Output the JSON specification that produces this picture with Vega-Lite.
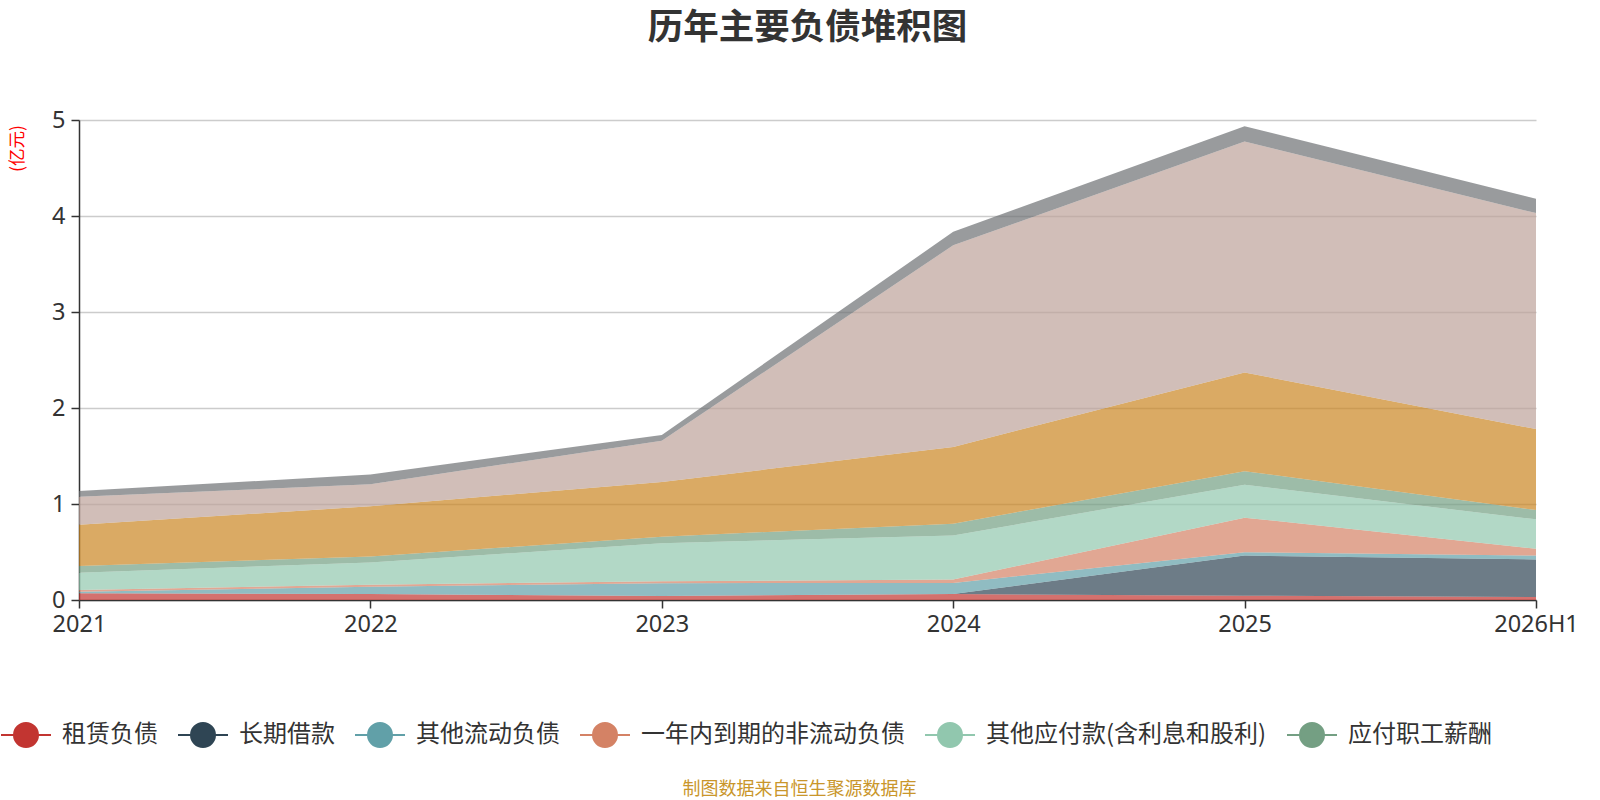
{
  "$schema": "https://vega.github.io/schema/vega-lite/v6.json",
  "autosize": "none",
  "width": 1457,
  "height": 480,
  "padding": {"left": 79, "top": 120, "right": 64, "bottom": 200},
  "background": "white",
  "config": {"view": {"stroke": null}, "font": "Noto Sans CJK SC"},
  "title": {"text": "历年主要负债堆积图", "font": "Noto Sans CJK SC", "fontSize": 35.5, "fontWeight": "bold", "color": "#333333", "anchor": "middle", "offset": 62},
  "data": {"values": [
    {"year": "2021", "s": "租赁负债", "k": 1, "v": 0.07},
    {"year": "2021", "s": "长期借款", "k": 2, "v": 0},
    {"year": "2021", "s": "其他流动负债", "k": 3, "v": 0.015},
    {"year": "2021", "s": "一年内到期的非流动负债", "k": 4, "v": 0.02},
    {"year": "2021", "s": "其他应付款(含利息和股利)", "k": 5, "v": 0.18},
    {"year": "2021", "s": "应付职工薪酬", "k": 6, "v": 0.07},
    {"year": "2021", "s": "合同负债", "k": 7, "v": 0.43},
    {"year": "2021", "s": "应付票据及应付账款", "k": 8, "v": 0.29},
    {"year": "2021", "s": "应交税费", "k": 9, "v": 0.06},
    {"year": "2022", "s": "租赁负债", "k": 1, "v": 0.063},
    {"year": "2022", "s": "长期借款", "k": 2, "v": 0},
    {"year": "2022", "s": "其他流动负债", "k": 3, "v": 0.076},
    {"year": "2022", "s": "一年内到期的非流动负债", "k": 4, "v": 0.021},
    {"year": "2022", "s": "其他应付款(含利息和股利)", "k": 5, "v": 0.23},
    {"year": "2022", "s": "应付职工薪酬", "k": 6, "v": 0.063},
    {"year": "2022", "s": "合同负债", "k": 7, "v": 0.523},
    {"year": "2022", "s": "应付票据及应付账款", "k": 8, "v": 0.23},
    {"year": "2022", "s": "应交税费", "k": 9, "v": 0.1},
    {"year": "2023", "s": "租赁负债", "k": 1, "v": 0.042},
    {"year": "2023", "s": "长期借款", "k": 2, "v": 0},
    {"year": "2023", "s": "其他流动负债", "k": 3, "v": 0.133},
    {"year": "2023", "s": "一年内到期的非流动负债", "k": 4, "v": 0.02},
    {"year": "2023", "s": "其他应付款(含利息和股利)", "k": 5, "v": 0.395},
    {"year": "2023", "s": "应付职工薪酬", "k": 6, "v": 0.07},
    {"year": "2023", "s": "合同负债", "k": 7, "v": 0.57},
    {"year": "2023", "s": "应付票据及应付账款", "k": 8, "v": 0.43},
    {"year": "2023", "s": "应交税费", "k": 9, "v": 0.06},
    {"year": "2024", "s": "租赁负债", "k": 1, "v": 0.062},
    {"year": "2024", "s": "长期借款", "k": 2, "v": 0},
    {"year": "2024", "s": "其他流动负债", "k": 3, "v": 0.116},
    {"year": "2024", "s": "一年内到期的非流动负债", "k": 4, "v": 0.035},
    {"year": "2024", "s": "其他应付款(含利息和股利)", "k": 5, "v": 0.46},
    {"year": "2024", "s": "应付职工薪酬", "k": 6, "v": 0.122},
    {"year": "2024", "s": "合同负债", "k": 7, "v": 0.8},
    {"year": "2024", "s": "应付票据及应付账款", "k": 8, "v": 2.1},
    {"year": "2024", "s": "应交税费", "k": 9, "v": 0.14},
    {"year": "2025", "s": "租赁负债", "k": 1, "v": 0.045},
    {"year": "2025", "s": "长期借款", "k": 2, "v": 0.418},
    {"year": "2025", "s": "其他流动负债", "k": 3, "v": 0.035},
    {"year": "2025", "s": "一年内到期的非流动负债", "k": 4, "v": 0.36},
    {"year": "2025", "s": "其他应付款(含利息和股利)", "k": 5, "v": 0.342},
    {"year": "2025", "s": "应付职工薪酬", "k": 6, "v": 0.142},
    {"year": "2025", "s": "合同负债", "k": 7, "v": 1.028},
    {"year": "2025", "s": "应付票据及应付账款", "k": 8, "v": 2.405},
    {"year": "2025", "s": "应交税费", "k": 9, "v": 0.16},
    {"year": "2026H1", "s": "租赁负债", "k": 1, "v": 0.031},
    {"year": "2026H1", "s": "长期借款", "k": 2, "v": 0.391},
    {"year": "2026H1", "s": "其他流动负债", "k": 3, "v": 0.041},
    {"year": "2026H1", "s": "一年内到期的非流动负债", "k": 4, "v": 0.07},
    {"year": "2026H1", "s": "其他应付款(含利息和股利)", "k": 5, "v": 0.307},
    {"year": "2026H1", "s": "应付职工薪酬", "k": 6, "v": 0.097},
    {"year": "2026H1", "s": "合同负债", "k": 7, "v": 0.843},
    {"year": "2026H1", "s": "应付票据及应付账款", "k": 8, "v": 2.25},
    {"year": "2026H1", "s": "应交税费", "k": 9, "v": 0.15}
  ]},
  "mark": {"type": "area", "opacity": 0.7},
  "encoding": {
    "x": {
      "field": "year", "type": "ordinal",
      "scale": {"type": "point", "padding": 0},
      "axis": {
        "labelAngle": 0, "labelFontSize": 23.5, "labelColor": "#333333", "labelFont": "Noto Sans",
        "domainColor": "#333333", "domainWidth": 1.5, "tickColor": "#333333", "tickSize": 8, "tickWidth": 1.5, "labelPadding": 4,
        "grid": false,
        "title": "制图数据来自恒生聚源数据库", "titleFont": "Noto Sans CJK SC", "titleFontSize": 18, "titleFontWeight": "normal",
        "titleColor": "#c9962b", "titleX": 720, "titleY": 189, "titleAlign": "center", "titleBaseline": "middle"
      }
    },
    "y": {
      "field": "v", "type": "quantitative", "stack": "zero",
      "scale": {"domain": [0, 5], "nice": false},
      "axis": {
        "values": [0, 1, 2, 3, 4, 5], "labelFontSize": 23.5, "labelColor": "#333333", "labelFont": "Noto Sans",
        "domain": true, "domainColor": "#333333", "domainWidth": 1.5, "tickColor": "#333333", "tickSize": 8, "tickWidth": 1.5, "labelPadding": 6,
        "gridColor": "#cccccc", "gridWidth": 1.5,
        "title": "(亿元)", "titleColor": "#ff0000", "titleFontSize": 17.5, "titleFontWeight": "normal", "titleFont": "Noto Sans CJK SC",
        "titleX": -62, "titleY": 28, "titleAlign": "center", "titleBaseline": "middle", "titleAngle": -90
      }
    },
    "order": {"field": "k", "type": "quantitative", "sort": "ascending"},
    "color": {
      "field": "s", "type": "nominal",
      "sort": ["租赁负债", "长期借款", "其他流动负债", "一年内到期的非流动负债", "其他应付款(含利息和股利)", "应付职工薪酬", "合同负债", "应付票据及应付账款", "应交税费"],
      "scale": {
        "domain": ["租赁负债", "长期借款", "其他流动负债", "一年内到期的非流动负债", "其他应付款(含利息和股利)", "应付职工薪酬", "合同负债", "应付票据及应付账款", "应交税费"],
        "range": ["#c23531", "#2f4554", "#61a0a8", "#d48265", "#91c7ae", "#749f83", "#ca8622", "#bda29a", "#6e7074"]
      },
      "legend": {
        "values": ["租赁负债", "长期借款", "其他流动负债", "一年内到期的非流动负债", "其他应付款(含利息和股利)", "应付职工薪酬"],
        "title": null, "orient": "none", "direction": "horizontal", "legendX": -79, "legendY": 589,
        "padding": 0, "offset": 0,
        "symbolType": "M-1,0L1,0M0.48,0A0.48,0.48,0,1,1,-0.48,0A0.48,0.48,0,1,1,0.48,0Z",
        "symbolSize": 2500, "symbolStrokeWidth": 2, "symbolOpacity": 1,
        "labelFontSize": 24, "labelFont": "Noto Sans CJK SC", "labelColor": "#333333", "labelOffset": 10, "labelLimit": 400,
        "columnPadding": 16,
        "encode": {"symbols": {"update": {"stroke": {"scale": "color", "field": "value"}, "opacity": {"value": 1}}}}
      }
    }
  }
}
